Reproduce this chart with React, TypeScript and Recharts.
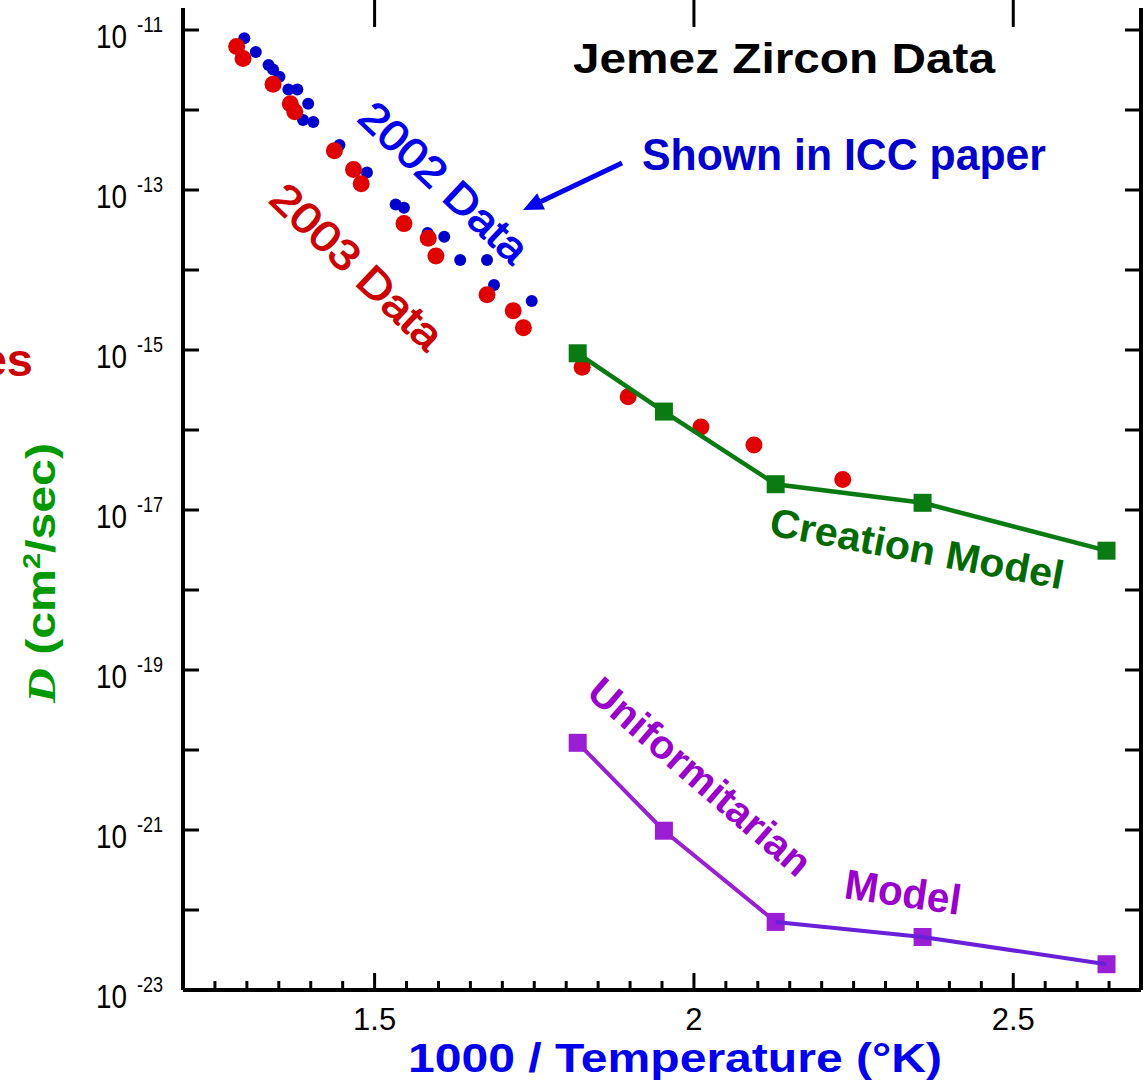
import React from 'react';
import { ScatterChart, Scatter, XAxis, YAxis } from 'recharts';

const W = 1145;
const H = 1085;
const PLOT_TOP = 8;
const FONT = '"Liberation Sans", Arial, Helvetica, sans-serif';

// 2002 measurements (blue)
const x2002 = [1.296, 1.314, 1.334, 1.341, 1.351, 1.365, 1.379, 1.396, 1.388, 1.404, 1.445, 1.488, 1.533, 1.546, 1.583, 1.609, 1.634, 1.676, 1.687, 1.746];
const d2002 = [7.9e-12, 5.3e-12, 3.65e-12, 3.2e-12, 2.6e-12, 1.8e-12, 1.8e-12, 1.2e-12, 7.5e-13, 7.1e-13, 3.65e-13, 1.66e-13, 6.6e-14, 6.0e-14, 2.9e-14, 2.6e-14, 1.33e-14, 1.33e-14, 6.5e-15, 4.1e-15];

// 2003 measurements (red)
const x2003 = [1.284, 1.294, 1.341, 1.368, 1.375, 1.437, 1.467, 1.479, 1.546, 1.584, 1.596, 1.676, 1.717, 1.733, 1.825, 1.897, 2.011, 2.094, 2.233];
const d2003 = [6.2e-12, 4.4e-12, 2.1e-12, 1.2e-12, 9.5e-13, 3.1e-13, 1.8e-13, 1.2e-13, 3.8e-14, 2.5e-14, 1.5e-14, 4.9e-15, 3.1e-15, 1.9e-15, 6.1e-16, 2.6e-16, 1.09e-16, 6.5e-17, 2.4e-17];

// model predictions
const modelX = [1.818, 1.953, 2.128, 2.358, 2.646];
const creationD = [9.1e-16, 1.7e-16, 2.1e-17, 1.23e-17, 3.1e-18];
const uniformD = [1.23e-20, 9.8e-22, 7.1e-23, 4.6e-23, 2.1e-23];

// axis ticks
const xTicks = [1.25, 1.3, 1.35, 1.4, 1.45, 1.5, 1.55, 1.6, 1.65, 1.7, 1.75, 1.8, 1.85, 1.9, 1.95, 2, 2.05, 2.1, 2.15, 2.2, 2.25, 2.3, 2.35, 2.4, 2.45, 2.5, 2.55, 2.6, 2.65];
const xLabels = ['1.5', '2', '2.5'];
const yTicks = [1e-23, 1e-22, 1e-21, 1e-20, 1e-19, 1e-18, 1e-17, 1e-16, 1e-15, 1e-14, 1e-13, 1e-12, 1e-11];
const yLabelExps = [-23, -21, -19, -17, -15, -13, -11];

const toPts = (xs: number[], ds: number[]) => xs.map((x, i) => ({ x, d: ds[i] }));
const pts2002 = toPts(x2002, d2002);
const pts2003 = toPts(x2003, d2003);
const creationPts = toPts(modelX, creationD);
const uniformPts = toPts(modelX, uniformD);

const isMajorX = (v: number) => xLabels.includes(String(v));

// bottom ticks point inward; the major ones are repeated along the (lineless) top edge
const BottomTick = (props: any) => {
  const { x, y, payload } = props;
  const major = isMajorX(payload.value);
  return (
    <g>
      <line x1={x} x2={x} y1={y} y2={y - (major ? 17 : 9)} stroke="#000" strokeWidth={3} />
      {major && <line x1={x} x2={x} y1={0} y2={PLOT_TOP + 19} stroke="#000" strokeWidth={3} />}
      {major && (
        <text x={x} y={y + 40} textAnchor="middle" fontSize={31} fontFamily={FONT} fill="#000">
          {String(payload.value)}
        </text>
      )}
    </g>
  );
};

const LeftTick = (props: any) => {
  const { x, y, payload } = props;
  const exp = Math.round(Math.log10(payload.value));
  const labelled = yLabelExps.includes(exp);
  return (
    <g>
      <line x1={x} x2={x + 16} y1={y} y2={y} stroke="#000" strokeWidth={3} />
      {labelled && (
        <g fontFamily={FONT} fill="#000">
          <text x={x - 56} y={y + 18} textAnchor="end" fontSize={34} textLength={31} lengthAdjust="spacingAndGlyphs">
            10
          </text>
          <text x={x - 46} y={y + 2} fontSize={22} textLength={26} lengthAdjust="spacingAndGlyphs">
            {String(exp)}
          </text>
        </g>
      )}
    </g>
  );
};

const RightTick = (props: any) => {
  const { x, y } = props;
  return <line x1={x} x2={x - 16} y1={y} y2={y} stroke="#000" strokeWidth={3} />;
};

const dot = (r: number, fill: string) => (p: any) => <circle cx={p.cx} cy={p.cy} r={r} fill={fill} />;
const square = (s: number, fill: string) => (p: any) => (
  <rect x={p.cx - s / 2} y={p.cy - s / 2} width={s} height={s} fill={fill} />
);
const nothing = () => <g />;

const axisLine = { stroke: '#000', strokeWidth: 4 };
const yDomain = [1e-23, Math.pow(10, -10.725)];

const Annotations = () => (
  <svg width={W} height={H} style={{ position: 'absolute', left: 0, top: 0, pointerEvents: 'none' }}>
    <g fontFamily={FONT} fontWeight="bold">
      <text x={573} y={73} fontSize={43} fill="#000" textLength={422} lengthAdjust="spacingAndGlyphs">
        Jemez Zircon Data
      </text>
      <text x={642} y={170} fontSize={44} fill="#0000cc" textLength={404} lengthAdjust="spacingAndGlyphs">
        Shown in ICC paper
      </text>
      <line x1={622} y1={163} x2={541} y2={201.4} stroke="#0000f0" strokeWidth={5} />
      <polygon points="523,210 537.2,193.3 545,209.5" fill="#0000f0" />
      <text x={408} y={1072} fontSize={40} fill="#0000ee" textLength={534} lengthAdjust="spacingAndGlyphs">
        1000 / Temperature (°K)
      </text>
      <text x={33} y={376} fontSize={47} fill="#cc0000" textAnchor="end">
        es
      </text>
      <g transform="translate(55,573) rotate(-90)">
        <text textAnchor="middle" fontSize={40} fill="#009a00" textLength={260} lengthAdjust="spacingAndGlyphs">
          <tspan fontFamily='"Liberation Serif", serif' fontStyle="italic">D</tspan>
          <tspan>{' (cm'}</tspan>
          <tspan fontSize={24} dy={-15}>2</tspan>
          <tspan dy={15}>/sec)</tspan>
        </text>
      </g>
      <text x={768} y={535} fontSize={40} fill="#006a00" textLength={298} lengthAdjust="spacingAndGlyphs" transform="rotate(10.5 768 535)">
        Creation Model
      </text>
      <text x={691} y={787} fontSize={40} fill="#9900cc" textAnchor="middle" textLength={280} lengthAdjust="spacingAndGlyphs" transform="rotate(40.8 691 787)">
        Uniformitarian
      </text>
      <text x={843} y={898} fontSize={42} fill="#9900cc" textLength={117} lengthAdjust="spacingAndGlyphs" transform="rotate(8.3 843 898)">
        Model
      </text>
    </g>
    <g fontFamily={FONT}>
      <text x={434} y={193} fontSize={42} fill="#0000ee" stroke="#0000ee" strokeWidth={1.2} textAnchor="middle" textLength={214} lengthAdjust="spacingAndGlyphs" transform="rotate(43 434 193)">
        2002 Data
      </text>
      <text x={347} y={277} fontSize={42} fill="#cc0000" stroke="#cc0000" strokeWidth={1.2} textAnchor="middle" textLength={220} lengthAdjust="spacingAndGlyphs" transform="rotate(43.6 347 277)">
        2003 Data
      </text>
    </g>
  </svg>
);

export default function App() {
  return (
    <div style={{ position: 'absolute', left: 0, top: 0, width: W, height: H, background: '#fff' }}>
      <ScatterChart width={W} height={H} margin={{ top: PLOT_TOP, right: 0, bottom: 0, left: 0 }}>
        <XAxis
          type="number"
          dataKey="x"
          domain={[1.2, 2.7]}
          allowDataOverflow
          ticks={xTicks}
          interval={0}
          height={95}
          tickSize={0}
          tickMargin={0}
          tickLine={false}
          axisLine={axisLine}
          tick={BottomTick}
        />
        <YAxis
          yAxisId={0}
          type="number"
          dataKey="d"
          scale="log"
          domain={yDomain}
          allowDataOverflow
          ticks={yTicks}
          interval={0}
          width={183}
          tickSize={0}
          tickMargin={0}
          tickLine={false}
          axisLine={axisLine}
          tick={LeftTick}
        />
        <YAxis
          yAxisId="right"
          orientation="right"
          type="number"
          scale="log"
          domain={yDomain}
          allowDataOverflow
          ticks={yTicks}
          interval={0}
          width={4}
          tickSize={0}
          tickMargin={0}
          tickLine={false}
          axisLine={axisLine}
          tick={RightTick}
        />
        <Scatter data={pts2002} shape={dot(6, '#0000cc')} isAnimationActive={false} />
        <Scatter data={pts2003} shape={dot(8.5, '#e00000')} isAnimationActive={false} />
        <Scatter
          data={creationPts}
          shape={square(18, '#0a7a12')}
          line={{ stroke: '#0a7a12', strokeWidth: 4.5 }}
          lineType="joint"
          isAnimationActive={false}
        />
        <Scatter
          data={uniformPts.slice(0, 3)}
          shape={nothing}
          line={{ stroke: '#9a1fd2', strokeWidth: 4 }}
          lineType="joint"
          isAnimationActive={false}
        />
        <Scatter data={uniformPts} shape={square(18, '#9a1fd4')} isAnimationActive={false} />
        <Scatter
          data={uniformPts.slice(2)}
          shape={nothing}
          line={{ stroke: '#6a1fd8', strokeWidth: 4 }}
          lineType="joint"
          isAnimationActive={false}
        />
      </ScatterChart>
      <Annotations />
    </div>
  );
}
